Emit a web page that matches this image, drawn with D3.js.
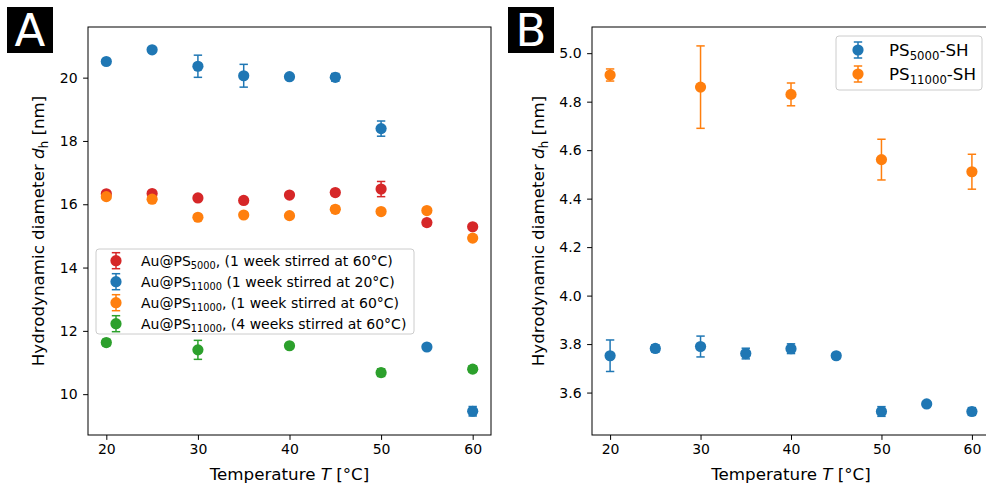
<!DOCTYPE html>
<html>
<head>
<meta charset="utf-8">
<script src="https://cdn.jsdelivr.net/npm/d3@7"></script>
<style>
  html, body { margin: 0; padding: 0; background: #fff; }
  svg { display: block; font-family: "DejaVu Sans", sans-serif; }
</style>
</head>
<body>
<svg id="chart" width="986" height="486"></svg>
<script>
// ---- data: panel A (gold nanoparticles) ----
const tempsA = [20, 25, 30, 35, 40, 45, 50, 55, 60];
const tempsGreen = [20, 30, 40, 50, 60];

const redVals  = [16.33, 16.34, 16.20, 16.12, 16.29, 16.37, 16.48, 15.42, 15.29];
const redErr   = [0.05, 0.05, 0.05, 0.05, 0.05, 0.05, 0.24, 0.10, 0.05];

const blueVals = [20.51, 20.88, 20.36, 20.06, 20.03, 20.01, 18.39, 11.49, 9.46];
const blueErr  = [0.05, 0.05, 0.35, 0.36, 0.05, 0.12, 0.24, 0.05, 0.15];

const orangeVals = [16.24, 16.16, 15.59, 15.66, 15.64, 15.84, 15.77, 15.80, 14.93];
const orangeErr  = [0.05, 0.05, 0.05, 0.05, 0.05, 0.10, 0.05, 0.05, 0.08];

const greenVals = [11.63, 11.40, 11.53, 10.68, 10.79];
const greenErr  = [0.10, 0.30, 0.05, 0.12, 0.10];

// ---- data: panel B (free thiol-terminated polymers) ----
const tempsB = [20, 25, 30, 35, 40, 45, 50, 55, 60];
const tempsB2 = [20, 30, 40, 50, 60];
const ps5000Vals = [3.752, 3.782, 3.790, 3.761, 3.781, 3.752, 3.522, 3.553, 3.522];
const ps5000Err  = [0.065, 0.015, 0.043, 0.022, 0.020, 0.012, 0.020, 0.008, 0.016];
const ps11000Vals = [4.910, 4.860, 4.830, 4.561, 4.511];
const ps11000Err  = [0.025, 0.170, 0.047, 0.084, 0.072];

const xTicks = [20, 30, 40, 50, 60];
const yTicksA = [10, 12, 14, 16, 18, 20];
const yTicksB = [3.6, 3.8, 4.0, 4.2, 4.4, 4.6, 4.8, 5.0];

const C = { blue: "#1f77b4", orange: "#ff7f0e", green: "#2ca02c", red: "#d62728" };

const TICK_FS = 14;
const TITLE_FS = 16.7;

const svg = d3.select("#chart");

function zip(xs, ys, es) { return xs.map((x, i) => ({ x, y: ys[i], e: es[i] })); }

function panel(opts) {
  const { left, right, top, bottom, xDomain, yDomain, yTicks, yFmt, series } = opts;
  const x = d3.scaleLinear().domain(xDomain).range([left, right]);
  const y = d3.scaleLinear().domain(yDomain).range([bottom, top]);
  const g = svg.append("g");

  // series: error bars with caps, then the markers
  series.forEach(s => {
    const sg = g.append("g");
    const pts = zip(s.xs, s.ys, s.es);
    sg.selectAll("line.err").data(pts).join("line")
      .attr("x1", d => x(d.x)).attr("x2", d => x(d.x))
      .attr("y1", d => y(d.y - d.e)).attr("y2", d => y(d.y + d.e))
      .attr("stroke", s.color).attr("stroke-width", 1.5);
    [-1, 1].forEach(sign => {
      sg.selectAll(null).data(pts).join("line")
        .attr("x1", d => x(d.x) - 4.2).attr("x2", d => x(d.x) + 4.2)
        .attr("y1", d => y(d.y + sign * d.e)).attr("y2", d => y(d.y + sign * d.e))
        .attr("stroke", s.color).attr("stroke-width", 1.5);
    });
    sg.selectAll("circle").data(pts).join("circle")
      .attr("cx", d => x(d.x)).attr("cy", d => y(d.y)).attr("r", 5.6)
      .attr("fill", s.color);
  });

  // spines
  g.append("rect").attr("x", left).attr("y", top)
    .attr("width", right - left).attr("height", bottom - top)
    .attr("fill", "none").attr("stroke", "#000").attr("stroke-width", 1);

  // x axis
  const xa = g.append("g").attr("transform", `translate(0,${bottom})`)
    .call(d3.axisBottom(x).tickValues(xTicks).tickSize(4.9).tickPadding(4.5).tickFormat(d3.format("d")));
  xa.select(".domain").remove();
  xa.selectAll("text").attr("font-size", TICK_FS).attr("font-family", "DejaVu Sans").attr("fill", "#000").attr("dy", "0.71em");
  xa.selectAll("line").attr("stroke", "#000");

  // y axis
  const ya = g.append("g").attr("transform", `translate(${left},0)`)
    .call(d3.axisLeft(y).tickValues(yTicks).tickSize(4.9).tickPadding(5.5).tickFormat(yFmt));
  ya.select(".domain").remove();
  ya.selectAll("text").attr("font-size", TICK_FS).attr("font-family", "DejaVu Sans").attr("fill", "#000");
  ya.selectAll("line").attr("stroke", "#000");

  // axis titles
  const xt = g.append("text").attr("x", (left + right) / 2).attr("y", 480)
    .attr("text-anchor", "middle").attr("font-size", TITLE_FS);
  xt.append("tspan").text("Temperature ");
  xt.append("tspan").attr("font-style", "italic").text("T");
  xt.append("tspan").text(" [°C]");

  const yt = g.append("text")
    .attr("transform", `translate(${opts.yTitleX},${(top + bottom) / 2}) rotate(-90)`)
    .attr("text-anchor", "middle").attr("font-size", TITLE_FS);
  yt.append("tspan").text("Hydrodynamic diameter ");
  yt.append("tspan").attr("font-style", "italic").text("d");
  yt.append("tspan").attr("font-size", TITLE_FS * 0.7).attr("dy", 3.5).text("h");
  yt.append("tspan").attr("dy", -3.5).text(" [nm]");

  // panel letter
  g.append("rect").attr("x", opts.letterX).attr("y", 7).attr("width", 46).attr("height", 46).attr("fill", "#000");
  g.append("text").attr("x", opts.letterX + 23).attr("y", 46).attr("text-anchor", "middle")
    .attr("font-size", 45).attr("fill", "#fff").text(opts.letter);

  return { x, y, g };
}

function legend(g, opts) {
  const { x0, y0, w, h, rows, markerX, textX, rowY, fs } = opts;
  g.append("rect").attr("x", x0).attr("y", y0).attr("width", w).attr("height", h)
    .attr("rx", 3).attr("fill", "#fff").attr("fill-opacity", 0.8)
    .attr("stroke", "#cccccc").attr("stroke-width", 1);
  rows.forEach((r, i) => {
    const cy = rowY[i];
    const lg = g.append("g");
    lg.append("line").attr("x1", markerX).attr("x2", markerX).attr("y1", cy - 8).attr("y2", cy + 8)
      .attr("stroke", r.color).attr("stroke-width", 1.5);
    [-8, 8].forEach(dy => lg.append("line").attr("x1", markerX - 4.2).attr("x2", markerX + 4.2)
      .attr("y1", cy + dy).attr("y2", cy + dy).attr("stroke", r.color).attr("stroke-width", 1.5));
    lg.append("circle").attr("cx", markerX).attr("cy", cy).attr("r", 5.6).attr("fill", r.color);
    const t = lg.append("text").attr("x", textX).attr("y", cy + fs * 0.36).attr("font-size", fs);
    t.append("tspan").text(r.pre);
    t.append("tspan").attr("font-size", fs * 0.7).attr("dy", fs * 0.22).text(r.sub);
    t.append("tspan").attr("dy", -fs * 0.22).text(r.post);
  });
}

// ---- panel A ----
const A = panel({
  left: 88, right: 491, top: 27, bottom: 435,
  xDomain: [18, 62], yDomain: [8.71, 21.6],
  yTicks: yTicksA, yFmt: d3.format("d"), yTitleX: 44, letter: "A", letterX: 7,
  series: [
    { xs: tempsA, ys: redVals, es: redErr, color: C.red },
    { xs: tempsA, ys: blueVals, es: blueErr, color: C.blue },
    { xs: tempsA, ys: orangeVals, es: orangeErr, color: C.orange },
    { xs: tempsGreen, ys: greenVals, es: greenErr, color: C.green }
  ]
});
legend(A.g, {
  x0: 96, y0: 249, w: 318, h: 85, fs: 14, markerX: 116, textX: 141,
  rowY: [260.7, 281.7, 302.7, 323.7],
  rows: [
    { color: C.red, pre: "Au@PS", sub: "5000", post: ", (1 week stirred at 60°C)" },
    { color: C.blue, pre: "Au@PS", sub: "11000", post: " (1 week stirred at 20°C)" },
    { color: C.orange, pre: "Au@PS", sub: "11000", post: ", (1 week stirred at 60°C)" },
    { color: C.green, pre: "Au@PS", sub: "11000", post: ", (4 weeks stirred at 60°C)" }
  ]
});

// ---- panel B ----
const B = panel({
  left: 592, right: 990, top: 27, bottom: 435,
  xDomain: [18, 62], yDomain: [3.425, 5.108],
  yTicks: yTicksB, yFmt: d3.format(".1f"), yTitleX: 544, letter: "B", letterX: 508,
  series: [
    { xs: tempsB, ys: ps5000Vals, es: ps5000Err, color: C.blue },
    { xs: tempsB2, ys: ps11000Vals, es: ps11000Err, color: C.orange }
  ]
});
legend(B.g, {
  x0: 836, y0: 36, w: 146, h: 54, fs: 16.7, markerX: 858, textX: 889,
  rowY: [50, 74],
  rows: [
    { color: C.blue, pre: "PS", sub: "5000", post: "-SH" },
    { color: C.orange, pre: "PS", sub: "11000", post: "-SH" }
  ]
});
</script>
</body>
</html>
